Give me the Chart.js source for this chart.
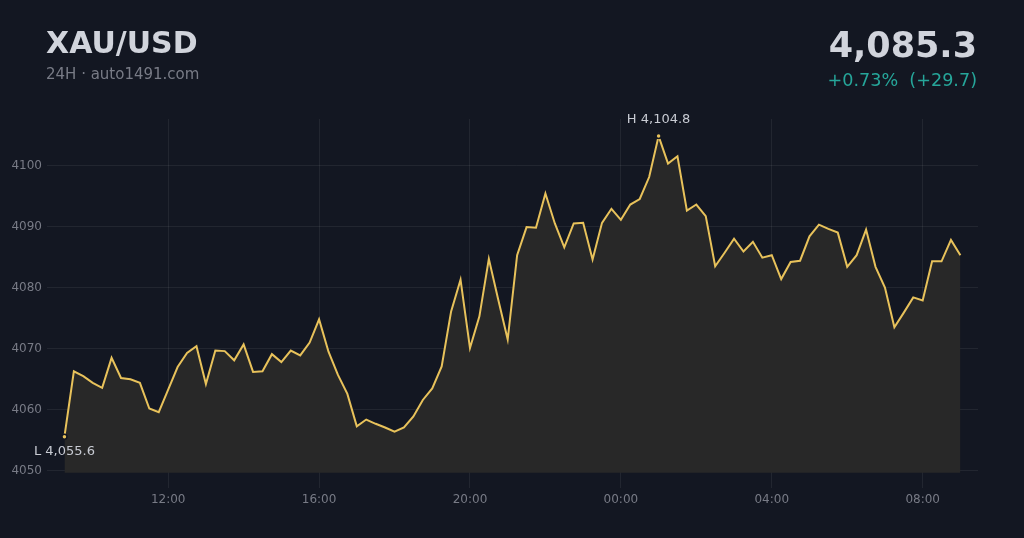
<!DOCTYPE html>
<html>
<head>
<meta charset="utf-8">
<script src="https://cdn.jsdelivr.net/npm/chart.js@4.4.1/dist/chart.umd.min.js"></script>
<style>
html, body { margin: 0; padding: 0; background: #131722; }
#wrap { width: 1024px; height: 538px; position: relative; }
</style>
</head>
<body>
<div id="wrap"><canvas id="goldChart"></canvas></div>
<script>
const symbol = 'XAU/USD';
const subtitle = '24H · auto1491.com';

// 15 minute closes, 09:15 -> 09:00 next day
const times = [
  '09:15', '09:30', '09:45',
  '10:00', '10:15', '10:30', '10:45', '11:00', '11:15', '11:30', '11:45',
  '12:00', '12:15', '12:30', '12:45', '13:00', '13:15', '13:30', '13:45',
  '14:00', '14:15', '14:30', '14:45', '15:00', '15:15', '15:30', '15:45',
  '16:00', '16:15', '16:30', '16:45', '17:00', '17:15', '17:30', '17:45',
  '18:00', '18:15', '18:30', '18:45', '19:00', '19:15', '19:30', '19:45',
  '20:00', '20:15', '20:30', '20:45', '21:00', '21:15', '21:30', '21:45',
  '22:00', '22:15', '22:30', '22:45', '23:00', '23:15', '23:30', '23:45',
  '00:00', '00:15', '00:30', '00:45', '01:00', '01:15', '01:30', '01:45',
  '02:00', '02:15', '02:30', '02:45', '03:00', '03:15', '03:30', '03:45',
  '04:00', '04:15', '04:30', '04:45', '05:00', '05:15', '05:30', '05:45',
  '06:00', '06:15', '06:30', '06:45', '07:00', '07:15', '07:30', '07:45',
  '08:00', '08:15', '08:30', '08:45', '09:00'
];

const prices = [
  4055.6, 4066.3, 4065.5,
  4064.4, 4063.6, 4068.5, 4065.2, 4065.0, 4064.4, 4060.2, 4059.6,
  4063.3, 4067.0, 4069.3, 4070.4, 4064.2, 4069.7, 4069.6, 4068.1,
  4070.7, 4066.2, 4066.3, 4069.1, 4067.8, 4069.7, 4068.9, 4071.0,
  4074.8, 4069.5, 4065.7, 4062.6, 4057.3, 4058.4, 4057.7, 4057.1,
  4056.4, 4057.1, 4058.9, 4061.6, 4063.5, 4067.1, 4076.1, 4081.3,
  4070.1, 4075.3, 4084.7, 4078.0, 4071.5, 4085.3, 4089.9, 4089.8,
  4095.4, 4090.5, 4086.6, 4090.5, 4090.6, 4084.6, 4090.6, 4092.9,
  4091.1, 4093.6, 4094.5, 4098.1, 4104.8, 4100.3, 4101.5, 4092.6,
  4093.6, 4091.7, 4083.5, 4085.7, 4088.0, 4085.9, 4087.5, 4084.9,
  4085.3, 4081.4, 4084.2, 4084.4, 4088.4, 4090.3, 4089.6, 4089.0,
  4083.4, 4085.3, 4089.5, 4083.4, 4080.0, 4073.5, 4075.9, 4078.4,
  4077.9, 4084.3, 4084.3, 4087.8, 4085.3
];

const yTicks = [4050, 4060, 4070, 4080, 4090, 4100];
const xTickLabels = ['12:00', '16:00', '20:00', '00:00', '04:00', '08:00'];

const LINE = '#e8c25b';
const TEXT = '#d1d4dc';
const MUTED = '#787b86';
const GRID = 'rgba(255,255,255,0.065)';

// minutes since midnight of the first day
const minutes = [];
times.forEach((t, i) => {
  let [h, m] = t.split(':').map(Number);
  let v = h * 60 + m;
  while (i > 0 && v < minutes[i - 1]) v += 1440;
  minutes.push(v);
});

const points = prices.map((p, i) => ({ x: minutes[i], y: p }));
const hi = prices.indexOf(Math.max(...prices));
const lo = prices.indexOf(Math.min(...prices));
const last = prices[prices.length - 1];
const first = prices[0];

const fmt = v => v.toLocaleString('en-US', { minimumFractionDigits: 1, maximumFractionDigits: 1 });

const headerPlugin = {
  id: 'header',
  afterDraw(chart) {
    const ctx = chart.ctx;
    const xs = chart.scales.x, ys = chart.scales.y;
    ctx.save();
    ctx.textBaseline = 'alphabetic';

    ctx.textAlign = 'left';
    ctx.fillStyle = TEXT;
    ctx.font = 'bold 30px "DejaVu Sans"';
    ctx.fillText(symbol, 46, 53);
    ctx.fillStyle = MUTED;
    ctx.font = '15px "DejaVu Sans"';
    ctx.fillText(subtitle, 46, 79);

    const diff = last - first;
    const pct = diff / first * 100;
    ctx.textAlign = 'right';
    ctx.fillStyle = TEXT;
    ctx.font = 'bold 35px "DejaVu Sans"';
    ctx.fillText(fmt(last), 977, 57);
    ctx.fillStyle = '#26a69a';
    ctx.font = '17.6px "DejaVu Sans"';
    ctx.fillText('+' + pct.toFixed(2) + '%  (+' + diff.toFixed(1) + ')', 977, 86);

    // high / low tags
    ctx.textAlign = 'center';
    ctx.textBaseline = 'middle';
    ctx.font = '13px "DejaVu Sans"';
    ctx.fillStyle = '#c8cbd3';
    ctx.fillText('H ' + fmt(prices[hi]), xs.getPixelForValue(minutes[hi]), ys.getPixelForValue(prices[hi]) - 16);
    ctx.fillText('L ' + fmt(prices[lo]), xs.getPixelForValue(minutes[lo]), ys.getPixelForValue(prices[lo]) + 15);
    ctx.restore();
  }
};

Chart.defaults.font.family = '"DejaVu Sans"';
Chart.defaults.font.size = 12;

new Chart(document.getElementById('goldChart'), {
  type: 'line',
  data: {
    datasets: [{
      data: points,
      borderColor: LINE,
      borderWidth: 2,
      backgroundColor: 'rgba(40,40,40,1)',
      fill: { value: 4049.7 },
      tension: 0,
      pointRadius: prices.map((p, i) => (i === hi || i === lo) ? 2.5 : 0),
      pointBackgroundColor: LINE,
      pointBorderColor: '#131722',
      pointBorderWidth: 1.5,
      pointHoverRadius: 0
    }]
  },
  options: {
    responsive: true,
    maintainAspectRatio: false,
    animation: false,
    layout: { padding: { top: 119, right: 46, left: 0, bottom: 28 } },
    plugins: { legend: { display: false }, tooltip: { enabled: false } },
    scales: {
      x: {
        type: 'linear',
        min: 540,
        max: 2008,
        afterBuildTicks: s => {
          s.ticks = xTickLabels.map(l => ({ value: minutes[times.indexOf(l)], label: l }));
        },
        afterFit: s => { s.height = 30; },
        ticks: {
          color: MUTED,
          padding: 5,
          maxRotation: 0,
          callback: (v, i) => xTickLabels[i]
        },
        grid: { color: GRID, tickLength: 8 },
        border: { display: false }
      },
      y: {
        min: 4048.5,
        max: 4107.6,
        afterBuildTicks: s => {
          s.ticks = yTicks.map(v => ({ value: v }));
        },
        afterFit: s => { s.width = 55; },
        ticks: { color: MUTED, padding: 5, callback: v => String(v) },
        grid: { color: GRID, tickLength: 8 },
        border: { display: false }
      }
    }
  },
  plugins: [headerPlugin]
});
</script>
</body>
</html>
